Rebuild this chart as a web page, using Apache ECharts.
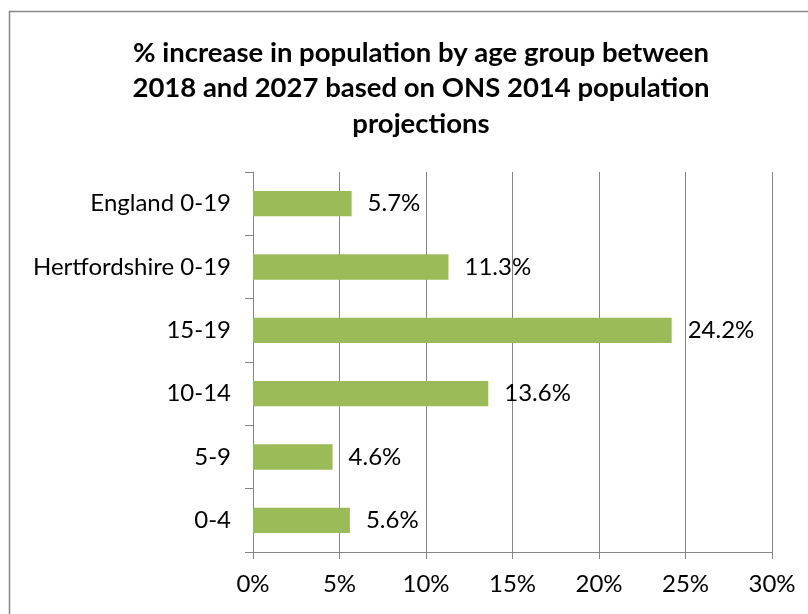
<!DOCTYPE html>
<html><head><meta charset="utf-8">
<script src="https://cdn.jsdelivr.net/npm/echarts@6/dist/echarts.min.js"></script>
<style>html,body{margin:0;padding:0;background:#fff}#c{width:808px;height:614px}</style>
</head><body><div id="c"></div>
<script>
const categories = ['0-4', '5-9', '10-14', '15-19', 'Hertfordshire 0-19', 'England 0-19'];
const values = [5.6, 4.6, 13.6, 24.2, 11.3, 5.7];
const titleText = '% increase in population by age group between\n2018 and 2027 based on ONS 2014 population\nprojections';
const FONT = 'Lato';
const chart = echarts.init(document.getElementById('c'), null, {renderer: 'canvas'});
chart.setOption({
  animation: false,
  backgroundColor: '#fff',
  graphic: [{type: 'rect', shape: {x: 9.5, y: 11.5, width: 830, height: 640}, style: {fill: 'none', stroke: '#888', lineWidth: 1.5}, silent: true}],
  title: {
    text: titleText, left: 416, textAlign: 'center', top: 30,
    textStyle: {fontFamily: FONT, fontWeight: 'bold', fontSize: 27.5, lineHeight: 35.5, color: '#000'}
  },
  grid: {left: 253, right: 36, top: 172, bottom: 62, containLabel: false},
  xAxis: {
    type: 'value', min: 0, max: 30, interval: 5,
    axisLine: {show: true, lineStyle: {color: '#868686', width: 1}},
    axisTick: {show: true, length: 7, lineStyle: {color: '#868686'}},
    splitLine: {show: true, lineStyle: {color: '#868686', width: 1}},
    axisLabel: {formatter: v => v + '%', fontFamily: FONT, fontSize: 24, color: '#000', margin: 20}
  },
  yAxis: {
    type: 'category', data: categories,
    axisLine: {show: true, lineStyle: {color: '#868686', width: 1}},
    axisTick: {show: true, length: 8, lineStyle: {color: '#868686'}},
    axisLabel: {fontFamily: FONT, fontSize: 24, color: '#000', margin: 22}
  },
  series: [{
    type: 'bar', data: values, barCategoryGap: '60%',
    itemStyle: {color: '#9BBB59'},
    label: {show: true, position: 'right', distance: 16, formatter: p => p.value.toFixed(1) + '%',
      fontFamily: FONT, fontSize: 24, color: '#000'}
  }]
});
</script></body></html>
